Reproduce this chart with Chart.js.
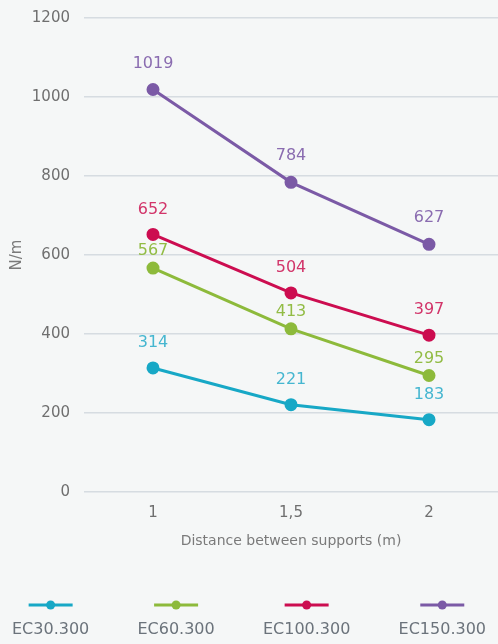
<!DOCTYPE html>
<html>
<head>
<meta charset="utf-8">
<script src="https://cdn.jsdelivr.net/npm/chart.js@4"></script>
<style>
  html, body { margin: 0; padding: 0; background: #f5f7f7; }
  #wrap { width: 498px; height: 644px; position: relative; }
</style>
</head>
<body>
<div id="wrap"><canvas id="c" width="498" height="644"></canvas></div>
<script>
const categories = ['1', '1,5', '2'];
const seriesNames = ['EC30.300', 'EC60.300', 'EC100.300', 'EC150.300'];
const ec30 = [314, 221, 183];
const ec60 = [567, 413, 295];
const ec100 = [652, 504, 397];
const ec150 = [1019, 784, 627];
const yTicks = [0, 200, 400, 600, 800, 1000, 1200];

const lineColors = ['#17a8c6', '#8dba3b', '#cc0d50', '#7b5aa6'];
const labelColors = ['#45b6d0', '#92bc45', '#d2356a', '#8a6cb0'];
const labelOffsets = [25, 17, 25, 26];
const values = [ec30, ec60, ec100, ec150];

const FONT = '"DejaVu Sans", sans-serif';

const valueLabels = {
  id: 'valueLabels',
  afterDatasetsDraw(chart) {
    const ctx = chart.ctx;
    ctx.save();
    ctx.font = '16px ' + FONT;
    ctx.textAlign = 'center';
    ctx.textBaseline = 'middle';
    chart.data.datasets.forEach((ds, i) => {
      const meta = chart.getDatasetMeta(i);
      meta.data.forEach((pt, j) => {
        ctx.fillStyle = ds.labelColor;
        ctx.fillText(String(ds.data[j]), pt.x, pt.y - ds.labelOffset);
      });
    });
    ctx.restore();
  }
};

const bottomLegend = {
  id: 'bottomLegend',
  afterDraw(chart) {
    const ctx = chart.ctx;
    ctx.save();
    ctx.font = '16px ' + FONT;
    const ds = chart.data.datasets;
    const widths = ds.map(d => ctx.measureText(d.label).width);
    const margin = 12;
    const sum = widths.reduce((a, b) => a + b, 0);
    const gap = (chart.width - 2 * margin - sum) / (ds.length - 1);
    let x = margin;
    ds.forEach((d, i) => {
      const cx = x + widths[i] / 2;
      const ly = 605;
      ctx.strokeStyle = d.borderColor;
      ctx.lineWidth = 3;
      ctx.beginPath();
      ctx.moveTo(cx - 22, ly);
      ctx.lineTo(cx + 22, ly);
      ctx.stroke();
      ctx.fillStyle = d.borderColor;
      ctx.beginPath();
      ctx.arc(cx, ly, 4.5, 0, Math.PI * 2);
      ctx.fill();
      ctx.fillStyle = '#6b737b';
      ctx.textAlign = 'center';
      ctx.textBaseline = 'middle';
      ctx.fillText(d.label, cx, 630);
      x += widths[i] + gap;
    });
    ctx.restore();
  }
};

new Chart(document.getElementById('c'), {
  type: 'line',
  data: {
    labels: categories,
    datasets: seriesNames.map((name, i) => ({
      label: name,
      data: values[i],
      borderColor: lineColors[i],
      backgroundColor: lineColors[i],
      pointBackgroundColor: lineColors[i],
      pointBorderColor: lineColors[i],
      pointRadius: 5,
      borderWidth: 3,
      tension: 0,
      labelColor: labelColors[i],
      labelOffset: labelOffsets[i]
    }))
  },
  options: {
    responsive: false,
    animation: false,
    layout: { autoPadding: false, padding: { top: 18, right: 0, bottom: 94, left: 0 } },
    plugins: {
      legend: { display: false },
      tooltip: { enabled: false }
    },
    scales: {
      x: {
        offset: true,
        grid: { display: false, drawTicks: false },
        border: { display: false },
        ticks: { color: '#6f6f6f', font: { family: FONT, size: 15 }, padding: 12 },
        title: { display: true, text: 'Distance between supports (m)', color: '#7a7a7a', font: { family: FONT, size: 14 }, padding: { top: 10, bottom: 0 } },
        afterFit(scale) { scale.height = 58; scale.paddingLeft = 0; scale.paddingRight = 0; }
      },
      y: {
        min: 0,
        max: 1200,
        afterBuildTicks(scale) { scale.ticks = yTicks.map(v => ({ value: v })); },
        grid: { color: '#d6dce1', lineWidth: 1.5, drawTicks: false },
        border: { display: false },
        ticks: { color: '#6f6f6f', font: { family: FONT, size: 15 }, padding: 14, callback: v => String(v) },
        title: { display: true, text: 'N/m', color: '#7a7a7a', font: { family: FONT, size: 15 }, padding: { top: 8, bottom: 0 } },
        afterFit(scale) { scale.width = 84; scale.paddingTop = 0; scale.paddingBottom = 0; }
      }
    }
  },
  plugins: [valueLabels, bottomLegend]
});
</script>
</body>
</html>
